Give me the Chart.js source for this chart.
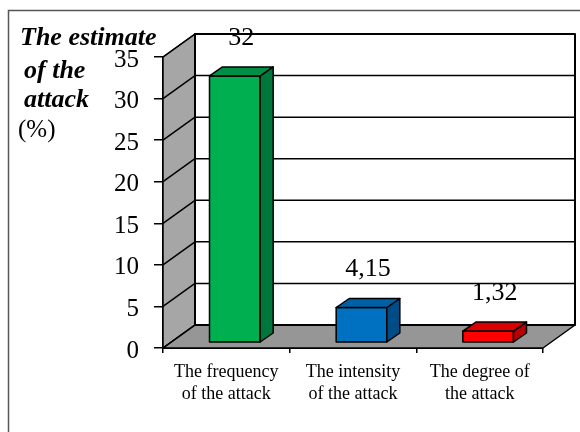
<!DOCTYPE html>
<html>
<head>
<meta charset="utf-8">
<script src="https://cdn.jsdelivr.net/npm/chart.js@4.4.0/dist/chart.umd.min.js"></script>
<style>
  html, body { margin: 0; padding: 0; background: #fff; }
  #wrap { width: 580px; height: 432px; position: relative; }
</style>
</head>
<body>
<div id="wrap"><canvas id="chart" width="580" height="432"></canvas></div>
<script>
// data
const categories = [
  ['The frequency', 'of the attack'],
  ['The intensity', 'of the attack'],
  ['The degree of', 'the attack']
];
const attackValues = [32, 4.15, 1.32];
const valueLabels = ['32', '4,15', '1,32'];
const yMin = 0;
const yMax = 35;
const yStep = 5;
const axisTitle = ['The estimate', 'of the', 'attack', '(%)'];

const frontColors = ['#00B050', '#0070C0', '#FF0000'];
const sideColors = ['#00773A', '#004C87', '#B80000'];
const topColors = ['#008F45', '#0060A6', '#D80000'];

const serif = '"Liberation Serif", "Times New Roman", serif';

// depth of the 3d box (walls) and of the bars
const DX = 32, DY = -23;
const BFX = 8.5, BFY = -6;   // bar front face offset
const BDX = 13, BDY = -9;    // bar depth

const box3d = {
  id: 'box3d',
  beforeDraw(chart) {
    const ctx = chart.ctx;
    ctx.save();
    // outer frame
    ctx.strokeStyle = '#555';
    ctx.lineWidth = 1.5;
    ctx.beginPath();
    ctx.moveTo(8.5, 432);
    ctx.lineTo(8.5, 10.5);
    ctx.lineTo(580, 10.5);
    ctx.stroke();
    ctx.restore();
  },
  beforeDatasetsDraw(chart) {
    const ctx = chart.ctx;
    const y = chart.scales.y;
    const x = chart.scales.x;
    const L = x.left, R = x.right;
    const top = y.getPixelForValue(yMax);
    const bot = y.getPixelForValue(yMin);
    ctx.save();
    ctx.lineJoin = 'round';
    ctx.strokeStyle = '#000';
    ctx.lineWidth = 1.5;
    // back wall
    ctx.fillStyle = '#fff';
    ctx.beginPath();
    ctx.rect(L + DX, top + DY, R - L, bot - top);
    ctx.fill();
    // side wall
    ctx.fillStyle = '#A6A6A6';
    ctx.beginPath();
    ctx.moveTo(L, top);
    ctx.lineTo(L + DX, top + DY);
    ctx.lineTo(L + DX, bot + DY);
    ctx.lineTo(L, bot);
    ctx.closePath();
    ctx.fill();
    ctx.stroke();
    // floor
    ctx.fillStyle = '#969696';
    ctx.beginPath();
    ctx.moveTo(L, bot);
    ctx.lineTo(R, bot);
    ctx.lineTo(R + DX, bot + DY);
    ctx.lineTo(L + DX, bot + DY);
    ctx.closePath();
    ctx.fill();
    ctx.stroke();
    // back wall outline
    ctx.lineWidth = 2;
    ctx.strokeRect(L + DX, top + DY, R - L, bot - top);
    // grid lines on walls
    ctx.lineWidth = 1.5;
    for (let v = yMin; v <= yMax; v += yStep) {
      const py = y.getPixelForValue(v);
      ctx.beginPath();
      ctx.moveTo(L, py);
      ctx.lineTo(L + DX, py + DY);
      ctx.lineTo(R + DX, py + DY);
      ctx.stroke();
    }
    ctx.restore();
  },
  afterDatasetsDraw(chart) {
    const ctx = chart.ctx;
    const y = chart.scales.y;
    const meta = chart.getDatasetMeta(0);
    ctx.save();
    ctx.strokeStyle = '#000';
    ctx.lineWidth = 1.5;
    ctx.lineJoin = 'round';
    meta.data.forEach((el, i) => {
      const x0 = el.x - el.width / 2 + BFX;
      const x1 = el.x + el.width / 2 + BFX;
      const t = y.getPixelForValue(attackValues[i]) + BFY;
      const b = y.getPixelForValue(0) + BFY;
      // front
      ctx.fillStyle = frontColors[i];
      ctx.beginPath();
      ctx.rect(x0, t, x1 - x0, b - t);
      ctx.fill();
      ctx.stroke();
      // side
      ctx.fillStyle = sideColors[i];
      ctx.beginPath();
      ctx.moveTo(x1, t);
      ctx.lineTo(x1 + BDX, t + BDY);
      ctx.lineTo(x1 + BDX, b + BDY);
      ctx.lineTo(x1, b);
      ctx.closePath();
      ctx.fill();
      ctx.stroke();
      // top
      ctx.fillStyle = topColors[i];
      ctx.beginPath();
      ctx.moveTo(x0, t);
      ctx.lineTo(x1, t);
      ctx.lineTo(x1 + BDX, t + BDY);
      ctx.lineTo(x0 + BDX, t + BDY);
      ctx.closePath();
      ctx.fill();
      ctx.stroke();
      // value label
      ctx.fillStyle = '#000';
      ctx.font = '26px ' + serif;
      ctx.textAlign = 'center';
      ctx.textBaseline = 'alphabetic';
      ctx.fillText(valueLabels[i], (x0 + x1) / 2 + BDX / 2, t + BDY - 22);
    });
    ctx.restore();
  },
  afterDraw(chart) {
    const ctx = chart.ctx;
    ctx.save();
    ctx.fillStyle = '#000';
    ctx.textAlign = 'left';
    ctx.textBaseline = 'alphabetic';
    ctx.font = 'italic bold 26px ' + serif;
    ctx.fillText(axisTitle[0], 20, 45);
    ctx.fillText(axisTitle[1], 24, 78);
    ctx.fillText(axisTitle[2], 24, 107);
    ctx.font = '25px ' + serif;
    ctx.fillText(axisTitle[3], 18, 137);
    ctx.restore();
  }
};

new Chart(document.getElementById('chart'), {
  type: 'bar',
  data: {
    labels: categories,
    datasets: [{
      data: attackValues,
      backgroundColor: 'rgba(0,0,0,0)',
      borderWidth: 0,
      categoryPercentage: 1,
      barPercentage: 0.4
    }]
  },
  options: {
    responsive: false,
    animation: false,
    events: [],
    layout: { padding: { left: 0, top: 57, right: 37, bottom: 24 } },
    plugins: {
      legend: { display: false },
      tooltip: { enabled: false },
      title: { display: false }
    },
    scales: {
      y: {
        min: yMin,
        max: yMax,
        afterFit(s) { s.width = 163; },
        ticks: {
          stepSize: yStep,
          color: '#000',
          font: { family: serif, size: 25 },
          padding: 15,
          labelOffset: 3
        },
        grid: {
          drawOnChartArea: false,
          drawTicks: true,
          tickLength: 9,
          color: '#000',
          lineWidth: 1.5
        },
        border: { display: true, color: '#000', width: 2 }
      },
      x: {
        afterFit(s) { s.height = 60; },
        ticks: {
          color: '#000',
          font: { family: serif, size: 18, lineHeight: 1.22 },
          padding: 8,
          maxRotation: 0,
          autoSkip: false
        },
        grid: {
          offset: true,
          drawOnChartArea: false,
          drawTicks: true,
          tickLength: 5,
          color: '#000',
          lineWidth: 1.5
        },
        border: { display: true, color: '#000', width: 2 }
      }
    }
  },
  plugins: [box3d]
});
</script>
</body>
</html>
